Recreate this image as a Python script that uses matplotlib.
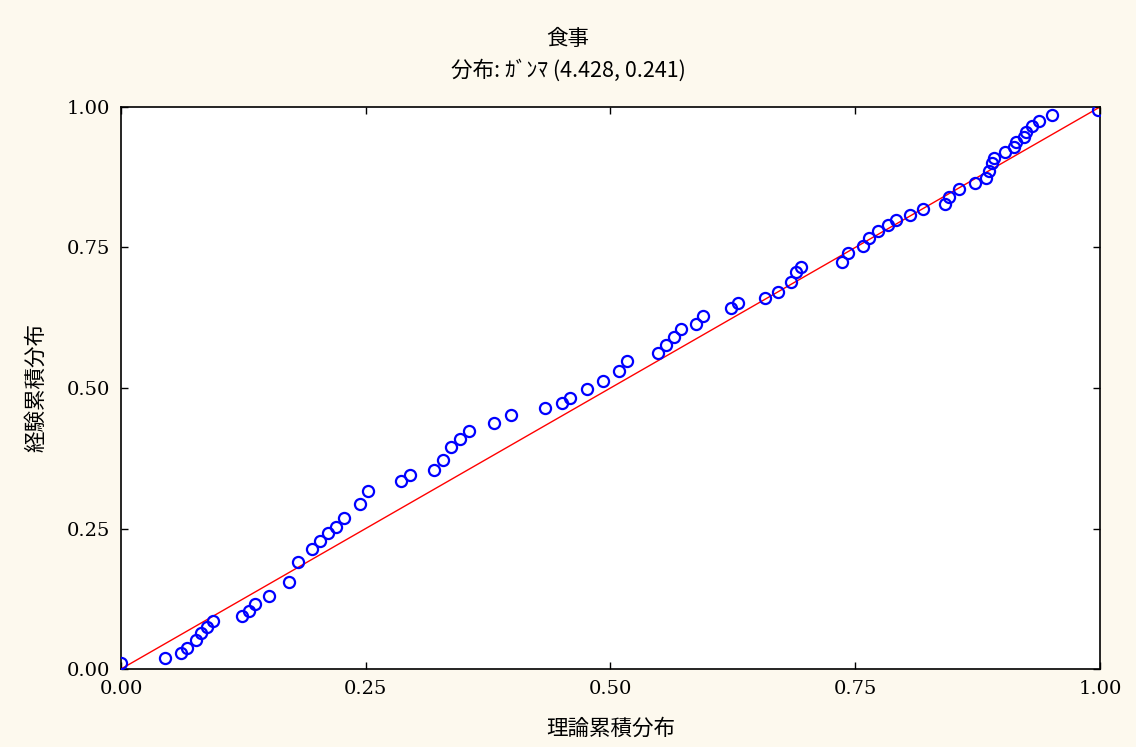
import matplotlib
matplotlib.use("Agg")
import matplotlib.pyplot as plt
import numpy as np

theoretical = [
    0.000, 0.045, 0.061, 0.067, 0.077, 0.082, 0.088, 0.094, 0.124, 0.131,
    0.137, 0.151, 0.172, 0.181, 0.195, 0.203, 0.211, 0.220, 0.228, 0.244,
    0.252, 0.286, 0.295, 0.320, 0.329, 0.337, 0.346, 0.355, 0.381, 0.398,
    0.433, 0.450, 0.459, 0.476, 0.492, 0.509, 0.517, 0.549, 0.557, 0.565,
    0.572, 0.587, 0.594, 0.623, 0.630, 0.658, 0.671, 0.684, 0.689, 0.695,
    0.736, 0.743, 0.758, 0.764, 0.773, 0.783, 0.792, 0.806, 0.819, 0.842,
    0.846, 0.856, 0.872, 0.884, 0.887, 0.890, 0.892, 0.903, 0.912, 0.914,
    0.922, 0.924, 0.931, 0.938, 0.951, 0.998,
]
empirical = [
    0.011, 0.020, 0.029, 0.037, 0.052, 0.064, 0.075, 0.085, 0.094, 0.103,
    0.116, 0.130, 0.155, 0.190, 0.213, 0.228, 0.242, 0.253, 0.269, 0.294,
    0.317, 0.335, 0.345, 0.354, 0.372, 0.395, 0.409, 0.423, 0.438, 0.452,
    0.464, 0.473, 0.482, 0.498, 0.512, 0.530, 0.548, 0.562, 0.577, 0.591,
    0.605, 0.614, 0.628, 0.642, 0.651, 0.660, 0.671, 0.689, 0.706, 0.715,
    0.725, 0.740, 0.752, 0.767, 0.779, 0.790, 0.799, 0.808, 0.819, 0.827,
    0.840, 0.854, 0.865, 0.874, 0.886, 0.900, 0.909, 0.920, 0.929, 0.938,
    0.947, 0.956, 0.966, 0.975, 0.986, 0.994,
]
ref_line = [0.0, 1.0]
ticks = [0.0, 0.25, 0.5, 0.75, 1.0]
tick_labels = ["0.00", "0.25", "0.50", "0.75", "1.00"]

BG = "#fdf9ee"
JP = ["Noto Sans CJK JP", "DejaVu Sans"]

fig = plt.figure(figsize=(11.36, 7.47), dpi=100)
fig.patch.set_facecolor(BG)
ax = fig.add_axes([0.1065, 0.1044, 0.8618, 0.7524])
ax.set_facecolor("white")

ax.plot(ref_line, ref_line, color="red", linewidth=1.0, zorder=2)
ax.plot(theoretical, empirical, linestyle="none", marker="o", markersize=8,
        markerfacecolor="none", markeredgecolor="blue", markeredgewidth=1.6, zorder=3)

ax.set_xlim(0, 1)
ax.set_ylim(0, 1)
ax.set_xticks(ticks)
ax.set_yticks(ticks)
ax.set_xticklabels(tick_labels, family="DejaVu Serif", fontsize=14)
ax.set_yticklabels(tick_labels, family="DejaVu Serif", fontsize=14)
ax.tick_params(direction="in", length=5, width=1, color="black",
               top=True, right=True, pad=8)

for sp in ax.spines.values():
    sp.set_linewidth(1.2)
    sp.set_color("black")

ax.set_xlabel("理論累積分布", family=JP, fontsize=15.5, labelpad=14)
ax.set_ylabel("経験累積分布", family=JP, fontsize=15.5, labelpad=14)

fig.text(0.5, 0.948, "食事", family=JP, fontsize=15.5, ha="center", va="center")
fig.text(0.5, 0.906, "分布: ｶﾞﾝﾏ (4.428, 0.241)", family=JP, fontsize=15.5,
         ha="center", va="center")

fig.savefig("out.png", dpi=100, facecolor=BG)
